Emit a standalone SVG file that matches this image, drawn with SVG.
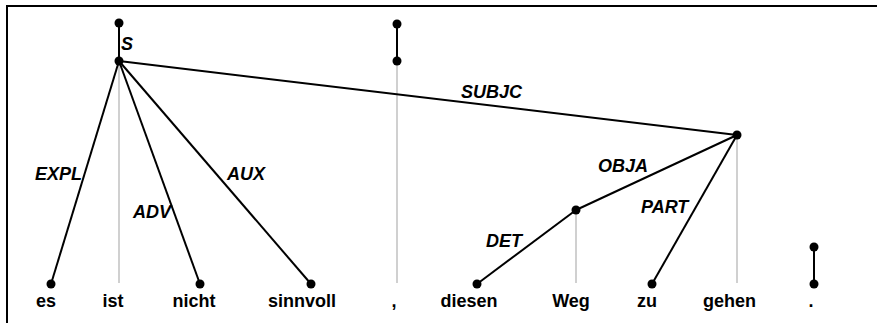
<svg xmlns="http://www.w3.org/2000/svg" width="877" height="323" viewBox="0 0 877 323">
  <style>
    .frame { fill: none; stroke: #000; stroke-width: 2; }
    .proj { stroke: #c0c0c0; stroke-width: 1.5; fill: none; }
    .edge { stroke: #000; stroke-width: 2; fill: none; }
    .dot { fill: #000; }
    .word { font-family: "Liberation Sans", Arial, sans-serif; font-weight: bold; font-size: 18px; fill: #000; text-anchor: middle; }
    .label { font-family: "Liberation Sans", Arial, sans-serif; font-weight: bold; font-style: italic; font-size: 18px; fill: #000; }
  </style>
  <rect x="0" y="0" width="877" height="323" fill="#fff"/>
  <rect class="frame" x="7" y="6" width="900" height="340"/>

  <!-- projection lines from nodes down to their words -->
  <g id="projections">
    <line class="proj" x1="119" y1="61" x2="119" y2="283"/>
    <line class="proj" x1="397" y1="61" x2="397" y2="283"/>
    <line class="proj" x1="576" y1="210" x2="576" y2="283"/>
    <line class="proj" x1="737" y1="135" x2="737" y2="283"/>
  </g>

  <!-- dependency edges -->
  <g id="connectors">
    <line class="edge" x1="119" y1="23" x2="119" y2="61"/>
    <line class="edge" x1="119" y1="61" x2="51" y2="284"/>
    <line class="edge" x1="119" y1="61" x2="200" y2="284"/>
    <line class="edge" x1="119" y1="61" x2="311" y2="284"/>
    <line class="edge" x1="119" y1="61" x2="737" y2="135"/>
    <line class="edge" x1="397" y1="24" x2="397" y2="61"/>
    <line class="edge" x1="737" y1="135" x2="576" y2="210"/>
    <line class="edge" x1="576" y1="210" x2="477" y2="284"/>
    <line class="edge" x1="737" y1="135" x2="652" y2="284"/>
    <line class="edge" x1="814" y1="247" x2="814" y2="284"/>
  </g>

  <g id="edge-labels">
    <text class="label" x="121" y="50">S</text>
    <text class="label" x="35" y="180">EXPL</text>
    <text class="label" x="133" y="218">ADV</text>
    <text class="label" x="227" y="180">AUX</text>
    <text class="label" x="461" y="98">SUBJC</text>
    <text class="label" x="598" y="172">OBJA</text>
    <text class="label" x="486" y="247">DET</text>
    <text class="label" x="641" y="213">PART</text>
  </g>

  <g id="root-top">
    <circle class="dot" cx="119" cy="23" r="4.5"/>
  </g>
  <g id="node-es">
    <circle class="dot" cx="51" cy="284" r="4.5"/>
    <text class="word" x="46" y="307">es</text>
  </g>
  <g id="node-ist">
    <circle class="dot" cx="119" cy="61" r="4.5"/>
    <text class="word" x="113" y="307">ist</text>
  </g>
  <g id="node-nicht">
    <circle class="dot" cx="200" cy="284" r="4.5"/>
    <text class="word" x="194" y="307">nicht</text>
  </g>
  <g id="node-sinnvoll">
    <circle class="dot" cx="311" cy="284" r="4.5"/>
    <text class="word" x="302" y="307">sinnvoll</text>
  </g>
  <g id="node-comma">
    <circle class="dot" cx="397" cy="24" r="4.5"/>
    <circle class="dot" cx="397" cy="61" r="4.5"/>
    <text class="word" x="394" y="307">,</text>
  </g>
  <g id="node-diesen">
    <circle class="dot" cx="477" cy="284" r="4.5"/>
    <text class="word" x="469" y="307">diesen</text>
  </g>
  <g id="node-weg">
    <circle class="dot" cx="576" cy="210" r="4.5"/>
    <text class="word" x="571" y="307">Weg</text>
  </g>
  <g id="node-zu">
    <circle class="dot" cx="652" cy="284" r="4.5"/>
    <text class="word" x="647" y="307">zu</text>
  </g>
  <g id="node-gehen">
    <circle class="dot" cx="737" cy="135" r="4.5"/>
    <text class="word" x="729.5" y="307">gehen</text>
  </g>
  <g id="node-period">
    <circle class="dot" cx="814" cy="247" r="4.5"/>
    <circle class="dot" cx="814" cy="284" r="4.5"/>
    <text class="word" x="811" y="307">.</text>
  </g>
</svg>
